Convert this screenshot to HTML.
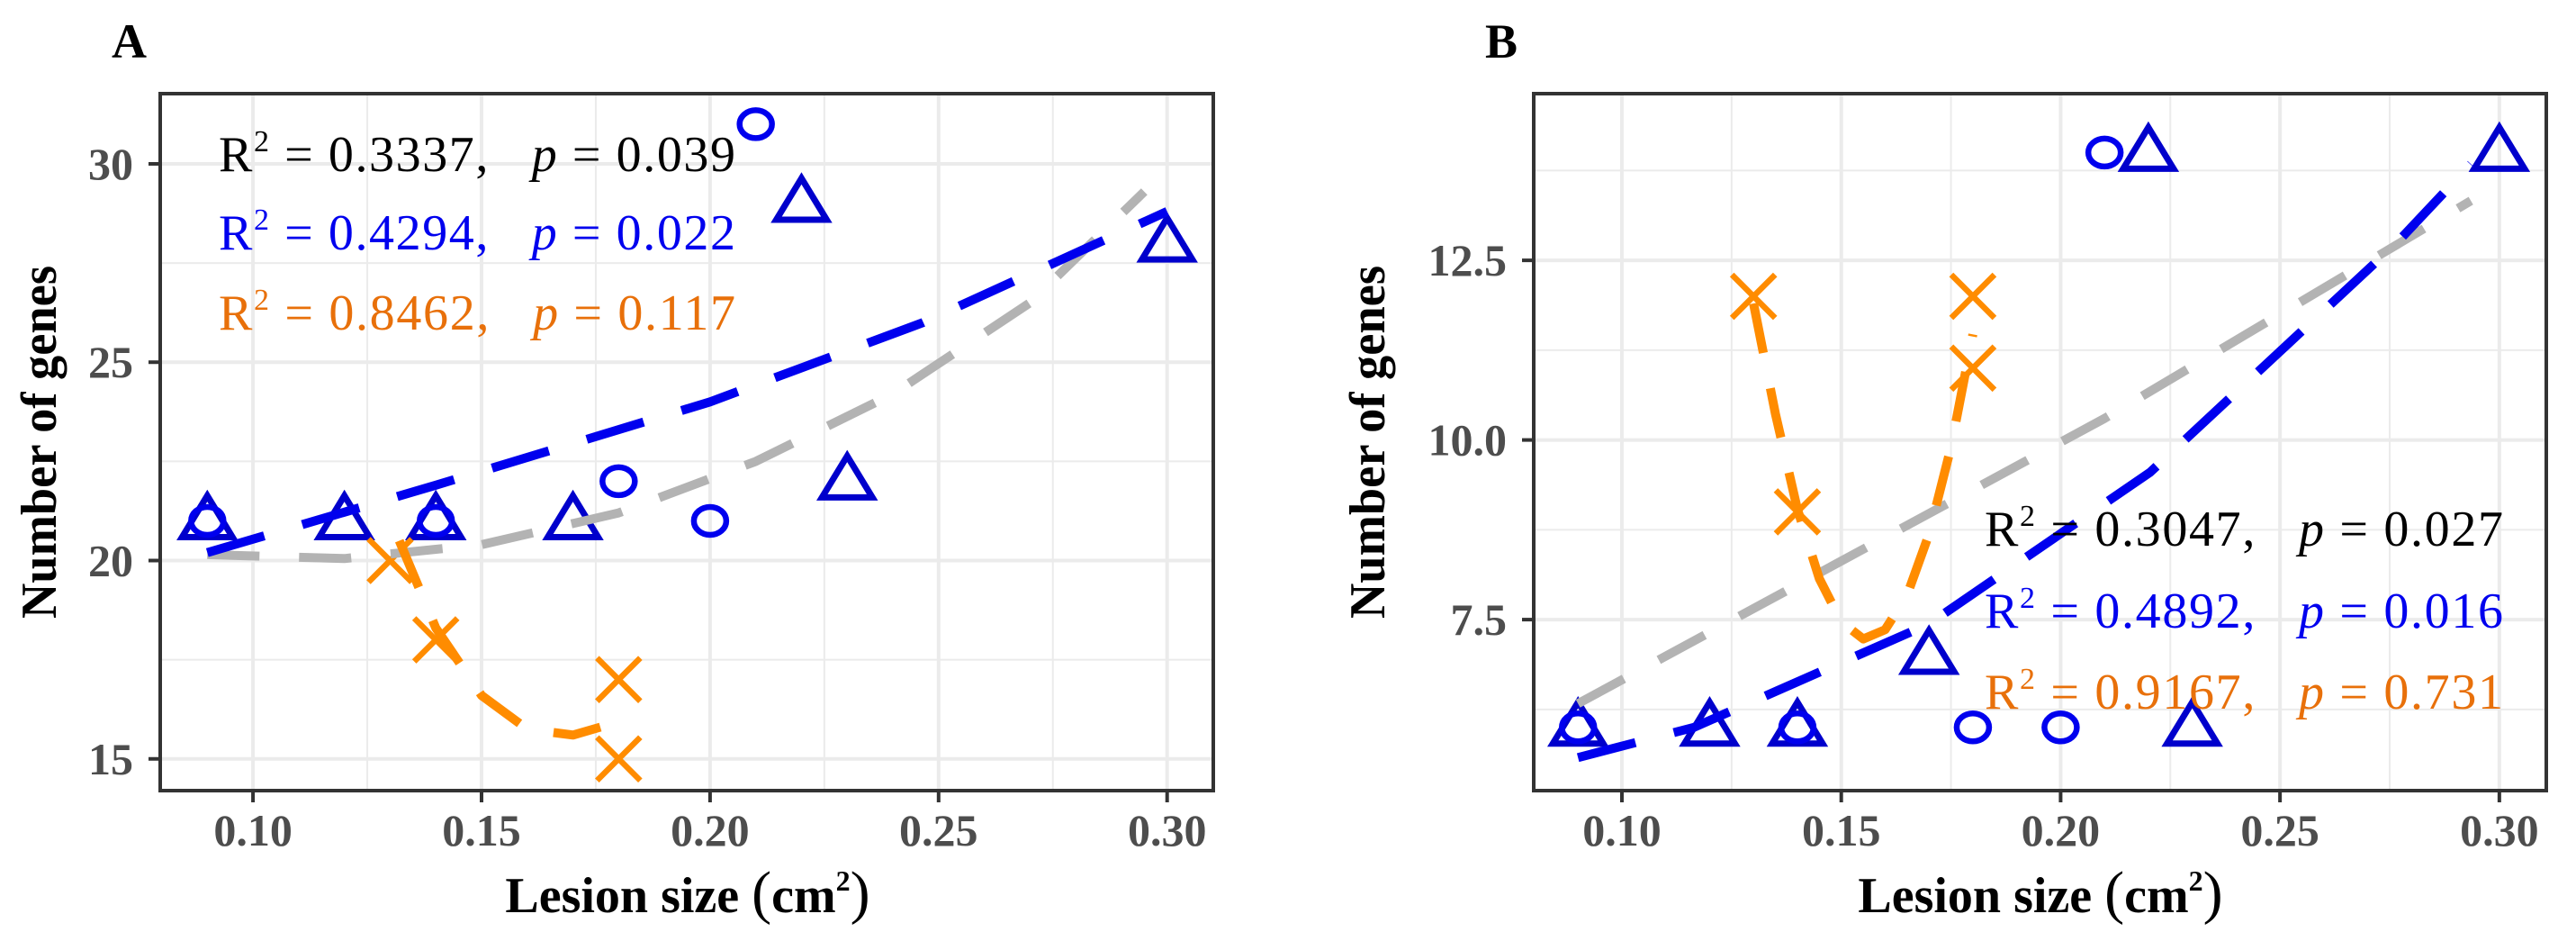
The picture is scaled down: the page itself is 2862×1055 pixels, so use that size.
<!DOCTYPE html>
<html><head><meta charset="utf-8"><style>
html,body{margin:0;padding:0;background:#fff;}
svg{display:block;font-family:"Liberation Serif",serif;}
</style></head><body>
<svg id="fig" width="2862" height="1055" viewBox="0 0 2862 1055" xmlns="http://www.w3.org/2000/svg"></svg>
<script>
// ---- Panel A data ----
const aCircX = [0.09, 0.14, 0.18, 0.20, 0.21];
const aCircY = [21, 21, 22, 21, 31];
const aTriX = [0.09, 0.12, 0.14, 0.17, 0.22, 0.23, 0.30];
const aTriY = [21, 21, 21, 21, 29, 22, 28];
const aCrossX = [0.13, 0.14, 0.18, 0.18];
const aCrossY = [20, 18, 17, 15];
const aBlueFitX = [0.09, 0.14, 0.20, 0.2466, 0.30];
const aBlueFitY = [20.2, 21.9, 24.0, 26.0, 28.8];
const aGrayFitX = [0.09, 0.12, 0.15, 0.18, 0.21, 0.24, 0.27, 0.295];
const aGrayFitY = [20.15, 20.05, 20.4, 21.2, 22.5, 24.2, 26.5, 29.3];
const aOrangeFitX = [0.132, 0.14, 0.15, 0.16, 0.17, 0.176];
const aOrangeFitY = [20.5, 18.3, 16.6, 15.75, 15.6, 15.8];
const aXTicks = [0.10, 0.15, 0.20, 0.25, 0.30];
const aXTickLabels = ["0.10", "0.15", "0.20", "0.25", "0.30"];
const aYTicks = [15, 20, 25, 30];
const aYTickLabels = ["15", "20", "25", "30"];
const aXMinor = [0.075, 0.125, 0.175, 0.225, 0.275];
const aYMinor = [17.5, 22.5, 27.5];
const aStats = [["0.3337", "0.039"], ["0.4294", "0.022"], ["0.8462", "0.117"]];

// ---- Panel B data ----
const bCircX = [0.09, 0.14, 0.18, 0.20, 0.21];
const bCircY = [6, 6, 6, 6, 14];
const bTriX = [0.09, 0.12, 0.14, 0.17, 0.22, 0.23, 0.30];
const bTriY = [6, 6, 6, 7, 14, 6, 14];
const bCrossX = [0.13, 0.14, 0.18, 0.18];
const bCrossY = [12, 9, 12, 11];
const bBlueFitX = [0.09, 0.1164, 0.17, 0.2204, 0.2767, 0.2935];
const bBlueFitY = [5.58, 6.0, 7.44, 9.55, 12.75, 13.84];
const bGrayFitX = [0.09, 0.21, 0.2935];
const bGrayFitY = [6.33, 10.3, 13.33];
const bOrangeFitX = [0.130, 0.135, 0.14, 0.145, 0.15, 0.155, 0.16, 0.165, 0.17, 0.175, 0.18];
const bOrangeFitY = [11.9, 10.36, 9.04, 8.07, 7.47, 7.23, 7.36, 7.84, 8.69, 9.9, 11.47];
const bXTicks = [0.10, 0.15, 0.20, 0.25, 0.30];
const bXTickLabels = ["0.10", "0.15", "0.20", "0.25", "0.30"];
const bYTicks = [7.5, 10.0, 12.5];
const bYTickLabels = ["7.5", "10.0", "12.5"];
const bXMinor = [0.075, 0.125, 0.175, 0.225, 0.275];
const bYMinor = [6.25, 8.75, 11.25, 13.75];
const bStats = [["0.3047", "0.027"], ["0.4892", "0.016"], ["0.9167", "0.731"]];

const NS = "http://www.w3.org/2000/svg";
const svg = document.getElementById("fig");
function mk(tag, attrs, parent) {
  const e = document.createElementNS(NS, tag);
  for (const k in attrs) e.setAttribute(k, attrs[k]);
  (parent || svg).appendChild(e);
  return e;
}
const BLUE = "#0000ee", TRI = "#0000cc", ORANGE = "#ff8c00", GRAY = "#b3b3b3";

function panel(cfg) {
  const g = mk("g", {});
  
  
  const L = cfg.left, R = cfg.right, T = 104, B = 878;
  const xs = v => L + (v - cfg.xmin) / (cfg.xmax - cfg.xmin) * (R - L);
  const ys = v => B - (v - cfg.ymin) / (cfg.ymax - cfg.ymin) * (B - T);
  const clip = "clip-" + cfg.name;
  const cp = mk("clipPath", {id: clip}, g);
  mk("rect", {x: L, y: T, width: R - L, height: B - T}, cp);
  cfg.xMinor.forEach(v => { if (xs(v) > L && xs(v) < R) { const l = mk("line", {x1: xs(v), x2: xs(v), y1: T, y2: B, stroke: "#ebebeb", "stroke-width": 2}, g);   } });
  cfg.yMinor.forEach(v => { const l = mk("line", {x1: L, x2: R, y1: ys(v), y2: ys(v), stroke: "#ebebeb", "stroke-width": 2}, g);   });
  cfg.xTicks.forEach(v => { const l = mk("line", {x1: xs(v), x2: xs(v), y1: T, y2: B, stroke: "#ebebeb", "stroke-width": 4}, g);   });
  cfg.yTicks.forEach(v => { const l = mk("line", {x1: L, x2: R, y1: ys(v), y2: ys(v), stroke: "#ebebeb", "stroke-width": 4}, g);   });
  cfg.xTicks.forEach((v, i) => {
    mk("line", {x1: xs(v), x2: xs(v), y1: B, y2: B + 13, stroke: "#333", "stroke-width": 4}, g);
    const t = mk("text", {x: xs(v), y: 939, "text-anchor": "middle", "font-size": 50, "font-weight": "bold", fill: "#4d4d4d"}, g);
    t.textContent = cfg.xTickLabels[i];
    
    
  });
  cfg.yTicks.forEach((v, i) => {
    mk("line", {x1: L - 13, x2: L, y1: ys(v), y2: ys(v), stroke: "#333", "stroke-width": 4}, g);
    const t = mk("text", {x: L - 30, y: ys(v) + 17, "text-anchor": "end", "font-size": 50, "font-weight": "bold", fill: "#4d4d4d"}, g);
    t.textContent = cfg.yTickLabels[i];
    
    
  });
  const pg = mk("g", {"clip-path": "url(#" + clip + ")"}, g);
  cfg.triX.forEach((v, i) => {
    const cx = xs(v), cy = ys(cfg.triY[i]);
    const p = mk("polygon", {points: `${cx},${cy - 28} ${cx - 28},${cy + 18} ${cx + 28},${cy + 18}`, fill: "none", stroke: TRI, "stroke-width": 7, "stroke-linejoin": "miter"}, pg);
    
    
  });
  cfg.circX.forEach((v, i) => {
    const c = mk("ellipse", {cx: xs(v), cy: ys(cfg.circY[i]), rx: 18, ry: 15.5, fill: "none", stroke: BLUE, "stroke-width": 6.5}, pg);
    
    
  });
  cfg.crossX.forEach((v, i) => {
    const cx = xs(v), cy = ys(cfg.crossY[i]);
    const p = mk("path", {d: `M${cx - 24},${cy - 24}L${cx + 24},${cy + 24}M${cx - 24},${cy + 24}L${cx + 24},${cy - 24}`, stroke: ORANGE, "stroke-width": 6.5, fill: "none"}, pg);
    
    
  });
  function fit(xa, ya, color, dash, name) {
    const d = xa.map((v, i) => (i ? "L" : "M") + xs(v).toFixed(1) + "," + ys(ya[i]).toFixed(1)).join("");
    const p = mk("path", {d: d, stroke: color, "stroke-width": 10, fill: "none", "stroke-dasharray": dash, "stroke-linejoin": "round"}, pg);
    
    
  }
  fit(cfg.grayX, cfg.grayY, GRAY, "58 44", "overall-fit-line");
  fit(cfg.blueX, cfg.blueY, BLUE, "66 44", "blue-fit-line");
  fit(cfg.orX, cfg.orY, ORANGE, "56 40", "orange-fit-line");
  const fr = mk("rect", {x: L, y: T, width: R - L, height: B - T, fill: "none", stroke: "#333", "stroke-width": 4}, g);
  
  
  const cols = ["#000000", "#0000ee", "#e8700a"];
  cfg.stats.forEach((s, i) => {
    const t = mk("text", {x: cfg.annX, y: cfg.annY[i], "font-size": 56, fill: cols[i], textLength: cfg.annW, lengthAdjust: "spacing"}, g);
    t.innerHTML = `R<tspan dy="-22" font-size="34">2</tspan><tspan dy="22">&#160;=&#160;${s[0]},&#160;&#160;&#160;</tspan><tspan font-style="italic">p</tspan>&#160;=&#160;${s[1]}`;
    
    
  });
  const lab = mk("text", {x: cfg.labX, y: 64, "font-size": 54, "font-weight": "bold"}, g);
  lab.textContent = cfg.label;
  
  
  const xt = mk("text", {x: cfg.xtX, y: 1013, "text-anchor": "middle", "font-size": 56, "font-weight": "bold"}, g);
  xt.innerHTML = `Lesion size <tspan font-weight="normal" font-size="66">(</tspan>cm<tspan dy="-24" font-size="32">2</tspan><tspan dy="24" font-weight="normal" font-size="66">)</tspan>`;
  
  
  const yt = mk("text", {x: 0, y: 0, "text-anchor": "middle", "font-size": 56, "font-weight": "bold", transform: `translate(${cfg.ytX},491) rotate(-90)`, textLength: 392, lengthAdjust: "spacingAndGlyphs"}, g);
  yt.textContent = "Number of genes";
  
  
}

panel({name: "panel-a", label: "A", labX: 124, left: 178, right: 1348, xmin: 0.0797, xmax: 0.3101, ymin: 14.2, ymax: 31.77,
  xTicks: aXTicks, xTickLabels: aXTickLabels, yTicks: aYTicks, yTickLabels: aYTickLabels, xMinor: aXMinor, yMinor: aYMinor,
  circX: aCircX, circY: aCircY, triX: aTriX, triY: aTriY, crossX: aCrossX, crossY: aCrossY,
  blueX: aBlueFitX, blueY: aBlueFitY, grayX: aGrayFitX, grayY: aGrayFitY, orX: aOrangeFitX, orY: aOrangeFitY,
  stats: aStats, annX: 243, annW: 574, annY: [190, 277, 366], xtX: 764, ytX: 62});
panel({name: "panel-b", label: "B", labX: 1650, left: 1704, right: 2829, xmin: 0.0799, xmax: 0.3107, ymin: 5.12, ymax: 14.82,
  xTicks: bXTicks, xTickLabels: bXTickLabels, yTicks: bYTicks, yTickLabels: bYTickLabels, xMinor: bXMinor, yMinor: bYMinor,
  circX: bCircX, circY: bCircY, triX: bTriX, triY: bTriY, crossX: bCrossX, crossY: bCrossY,
  blueX: bBlueFitX, blueY: bBlueFitY, grayX: bGrayFitX, grayY: bGrayFitY, orX: bOrangeFitX, orY: bOrangeFitY,
  stats: bStats, annX: 2205, annW: 576, annY: [606, 697, 787], xtX: 2267, ytX: 1538});
</script>
</body></html>
